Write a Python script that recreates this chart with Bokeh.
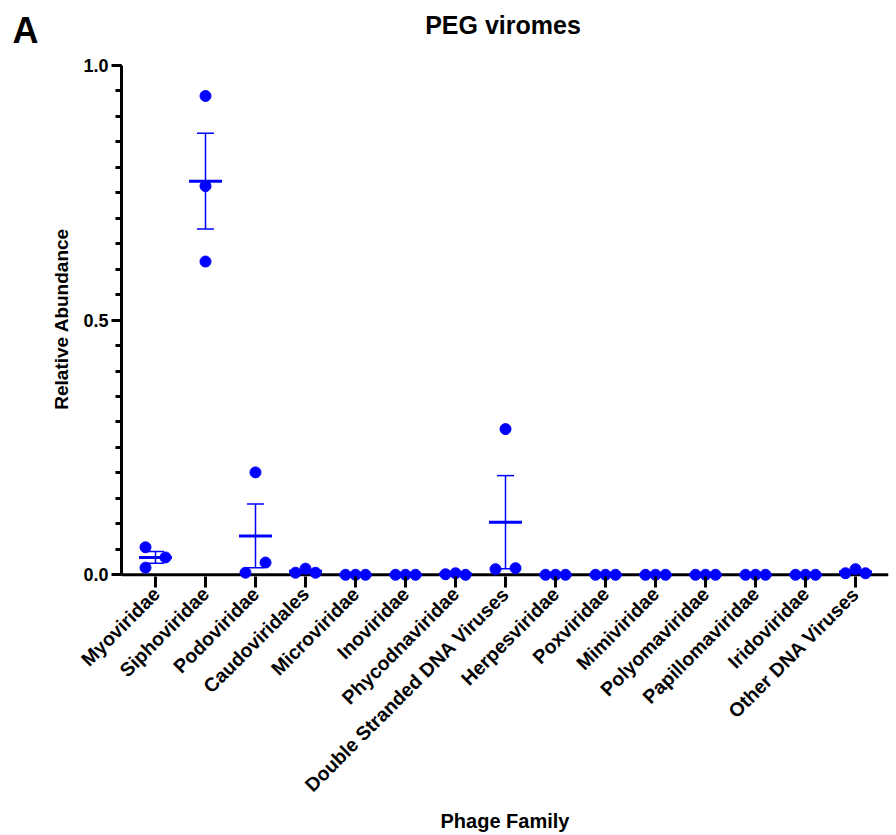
import numpy as np
from bokeh.plotting import figure
from bokeh.layouts import row
from bokeh.models import (FixedTicker, PrintfTickFormatter, Label, ColumnDataSource,
                          Whisker, TeeHead, Range1d, Span)
from bokeh.embed import file_html
from bokeh.resources import INLINE

# ---- data ----
families = ["Myoviridae", "Siphoviridae", "Podoviridae", "Caudoviridales",
            "Microviridae", "Inoviridae", "Phycodnaviridae",
            "Double Stranded DNA Viruses", "Herpesviridae", "Poxviridae",
            "Mimiviridae", "Polyomaviridae", "Papillomaviridae", "Iridoviridae",
            "Other DNA Viruses"]
rep_a = [0.054, 0.940, 0.004, 0.004, 0.0, 0.0, 0.001, 0.011, 0.0, 0.0, 0.0, 0.0, 0.0, 0.0, 0.003]
rep_b = [0.014, 0.763, 0.201, 0.012, 0.0, 0.0, 0.003, 0.286, 0.0, 0.0, 0.0, 0.0, 0.0, 0.0, 0.011]
rep_c = [0.034, 0.615, 0.024, 0.004, 0.0, 0.0, 0.0, 0.013, 0.0, 0.0, 0.0, 0.0, 0.0, 0.0, 0.003]
# horizontal spread of overlapping points (in dot-steps)
spread_a = [-1, 0, -1, -1, -1, -1, -1, -1, -1, -1, -1, -1, -1, -1, -1]
spread_b = [-1, 0, 0, 0, 0, 0, 0, 0, 0, 0, 0, 0, 0, 0, 0]
spread_c = [1, 0, 1, 1, 1, 1, 1, 1, 1, 1, 1, 1, 1, 1, 1]
y_ticks = [0.0, 0.5, 1.0]
title_text = "PEG viromes"
panel_text = "A"
y_title = "Relative Abundance"
x_title = "Phage Family"

BLUE = "#0000ff"
FONT = "Liberation Sans"
STEP = 0.2  # dot step in category widths
H = 835
STRIP_W = 76          # left strip holding the panel letter and y title
PX_PER_UNIT = 510.0   # vertical pixels per 1.0 of abundance
TOP_PAD = 65.0        # pixels above the 1.0 tick (title area, inside the frame)
Y_TITLE_SHIFT = 133   # anchor shift that centres the rotated y title on the axis

n = len(families)
idx = np.arange(n)
vals = np.array([rep_a, rep_b, rep_c])
means = vals.mean(axis=0)
sem = vals.std(axis=0, ddof=1) / np.sqrt(vals.shape[0])

px, py = [], []
for reps, spr in ((rep_a, spread_a), (rep_b, spread_b), (rep_c, spread_c)):
    px.extend(idx + np.array(spr) * STEP)
    py.extend(reps)

pts = ColumnDataSource(dict(x=px, y=py))
stats = ColumnDataSource(dict(x=idx, mean=means, upper=means + sem, lower=means - sem))

y_end = 1.0 + TOP_PAD / PX_PER_UNIT
x_rng = Range1d(-0.68, n - 1 + 0.66)
p = figure(width=896 - STRIP_W, height=H, output_backend="svg", toolbar_location=None,
           x_range=x_rng, y_range=Range1d(-0.025, y_end),
           min_border_left=121 - STRIP_W, min_border_right=8, min_border_top=0,
           min_border_bottom=247)
p.outline_line_color = None
p.grid.visible = False
p.background_fill_color = "white"
p.border_fill_color = "white"

# title (drawn inside the frame's top strip)
p.add_layout(Label(x=(x_rng.start + x_rng.end) / 2 - 0.04, y=1.0 + 40 / PX_PER_UNIT,
                   text=title_text, text_font=FONT, text_font_style="bold",
                   text_font_size="25px", text_align="center",
                   text_baseline="middle", text_color="black"))

# x axis line at zero (beneath the points)
p.add_layout(Span(location=0, dimension="width", line_color="black",
                  line_width=3, level="underlay"))

# points
p.scatter("x", "y", source=pts, size=11, color=BLUE)

# mean + SEM
p.scatter("x", "mean", source=stats, marker="dash", size=33, line_width=3,
          line_color=BLUE)
wh = Whisker(base="x", upper="upper", lower="lower", source=stats,
             line_color=BLUE, line_width=1.5,
             upper_head=TeeHead(size=17, line_color=BLUE, line_width=1.5),
             lower_head=TeeHead(size=17, line_color=BLUE, line_width=1.5))
p.add_layout(wh)

# y axis
ya = p.yaxis[0]
ya.ticker = FixedTicker(ticks=y_ticks, minor_ticks=list(np.round(np.arange(0, 1.0001, 0.05), 2)))
ya.formatter = PrintfTickFormatter(format="%.1f")
ya.bounds = (0, 1)
ya.axis_line_width = 3
ya.major_tick_line_width = 3
ya.minor_tick_line_width = 3
ya.major_tick_out = 10
ya.major_tick_in = 0
ya.minor_tick_out = 6
ya.minor_tick_in = 0
ya.major_label_text_font = FONT
ya.major_label_text_font_style = "bold"
ya.major_label_text_font_size = "18px"
ya.major_label_text_color = "black"
ya.major_label_standoff = 3

# x axis (line drawn by the span at zero; ticks reach up to it)
xa = p.xaxis[0]
xa.ticker = FixedTicker(ticks=list(idx), minor_ticks=[])
xa.major_label_overrides = {int(i): f for i, f in zip(idx, families)}
xa.major_label_orientation = np.pi / 4
xa.axis_line_color = None
xa.major_tick_line_width = 3
xa.major_tick_line_color = "black"
xa.major_tick_out = 0
xa.major_tick_in = 11
xa.minor_tick_out = 0
xa.minor_tick_in = 0
xa.major_label_text_font = FONT
xa.major_label_text_font_style = "bold"
xa.major_label_text_font_size = "19.5px"
xa.major_label_text_color = "black"
xa.major_label_standoff = 3
xa.axis_label = x_title
xa.axis_label_text_font = FONT
xa.axis_label_text_font_style = "bold"
xa.axis_label_text_font_size = "20px"
xa.axis_label_text_color = "black"
xa.axis_label_standoff = 4

# left strip holding the panel letter and the y-axis title (pixels, origin bottom-left)
pa = figure(width=STRIP_W, height=H, output_backend="svg", toolbar_location=None,
            x_range=Range1d(0, STRIP_W), y_range=Range1d(0, H), min_border=0)
pa.axis.visible = False
pa.grid.visible = False
pa.outline_line_color = None
pa.add_layout(Label(x=12, y=H - 14, text=panel_text, text_font=FONT,
                    text_font_style="bold", text_font_size="36px",
                    text_baseline="top", text_align="left", text_color="black"))
pa.add_layout(Label(x=61, y=H - (TOP_PAD + PX_PER_UNIT / 2 + Y_TITLE_SHIFT), text=y_title,
                    angle=np.pi / 2, text_font=FONT, text_font_style="bold",
                    text_font_size="19px", text_baseline="middle",
                    text_align="center", text_color="black"))

layout = row(pa, p, spacing=0)
open("out.html", "w").write(file_html(layout, INLINE))
